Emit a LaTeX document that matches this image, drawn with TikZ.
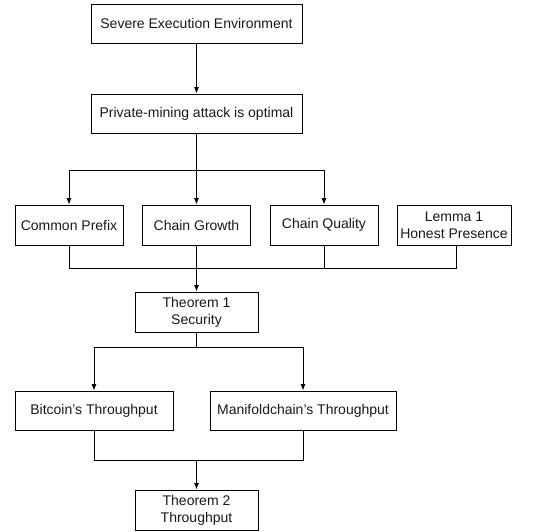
\documentclass[tikz,border=0pt]{standalone}
\usepackage{fontspec}
\setmainfont{Liberation Sans}
\usetikzlibrary{arrows.meta}
\begin{document}
\begin{tikzpicture}[x=1pt,y=-1pt,
  box/.style={draw, line width=0.9pt, align=center, inner sep=0pt,
    font=\fontsize{14}{17}\selectfont, text=black!90},
  conn/.style={line width=0.8pt},
  arr/.style={conn, -{Latex[length=6.5pt,width=5pt]}}]
\useasboundingbox (0,0) rectangle (551,531);
\node[box, minimum width=211, minimum height=39] (sev) at (196.5,23.5) {Severe Execution Environment};
\node[box, minimum width=211, minimum height=39] (priv) at (196.5,113.5) {Private-mining attack is optimal};
\node[box, minimum width=108, minimum height=40] (cp) at (69,225) {Common Prefix};
\node[box, minimum width=108, minimum height=40] (cg) at (196.5,225) {Chain Growth};
\node[box, minimum width=108, minimum height=40] (cq) at (324,225) {Chain Quality};
\node[box, minimum width=114, minimum height=40] (lem) at (454,225) {Lemma 1\\Honest Presence};
\node[box, minimum width=123, minimum height=40] (t1) at (196.5,312) {Theorem 1\\Security};
\node[box, minimum width=158, minimum height=39] (bt) at (94,410.5) {Bitcoin’s Throughput};
\node[box, minimum width=186, minimum height=39] (mt) at (303,410.5) {Manifoldchain’s Throughput};
\node[box, minimum width=123, minimum height=40] (t2) at (196.5,510) {Theorem 2\\Throughput};
\coordinate (j1) at (196.5,170);
\coordinate (j2) at (196.5,268);
\coordinate (j3) at (196.5,347);
\coordinate (j4) at (196.5,460);
\draw[arr] (sev) -- (priv);
\draw[conn] (priv.south) -- (j1);
\draw[arr] (j1) -| (cp.north);
\draw[arr] (j1) -- (cg.north);
\draw[arr] (j1) -| (cq.north);
\draw[conn] (cp.south) |- (j2);
\draw[conn] (cq.south) |- (j2);
\draw[conn] ([xshift=2.5pt]lem.south) |- (j2);
\draw[arr] (cg.south) -- (t1.north);
\draw[conn] (t1.south) -- (j3);
\draw[arr] (j3) -| (bt.north);
\draw[arr] (j3) -| (mt.north);
\draw[conn] (bt.south) |- (j4);
\draw[conn] (mt.south) |- (j4);
\draw[arr] (j4) -- (t2.north);
\end{tikzpicture}
\end{document}
